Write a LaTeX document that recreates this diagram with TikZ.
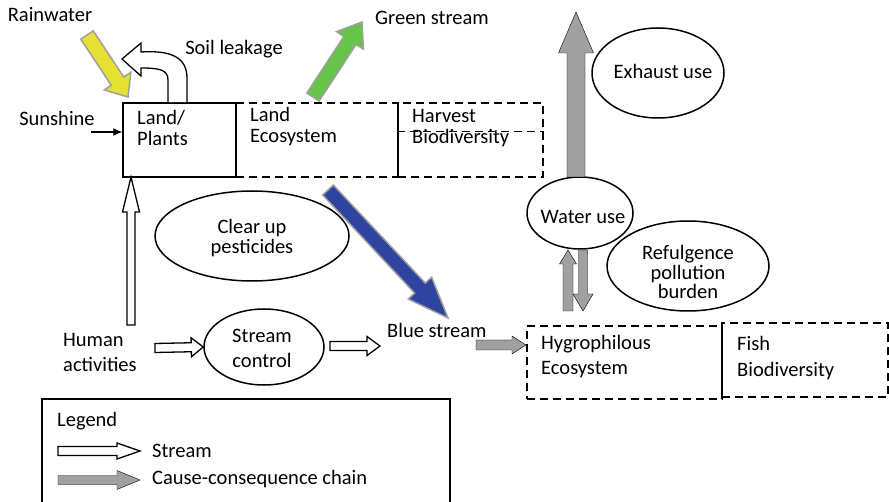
\documentclass[tikz,border=0pt]{standalone}
\usepackage{fontspec}
\setmainfont{Carlito}
\usepackage{tikz}
\usetikzlibrary{arrows.meta, calc, shapes.geometric}

\definecolor{rainyellow}{RGB}{230,224,50}
\definecolor{leafgreen}{RGB}{102,196,72}
\definecolor{riverblue}{RGB}{46,68,158}
\definecolor{chaingrey}{RGB}{160,160,160}

% block arrow: style, tail, tip, half shaft, half head, head length
\newcommand{\fatarrow}[6]{%
  \coordinate (fa-base) at ($(#3)!#6pt!(#2)$);
  \draw[#1] ($(#2)!#4pt!90:(#3)$) -- ($(fa-base)!#4pt!90:(#3)$)
    -- ($(fa-base)!#5pt!90:(#3)$) -- (#3) -- ($(fa-base)!#5pt!-90:(#3)$)
    -- ($(fa-base)!#4pt!-90:(#3)$) -- ($(#2)!#4pt!-90:(#3)$) -- cycle;
}

\begin{document}
\begin{tikzpicture}[
    x=1pt, y=-1pt,
    every node/.style={font=\fontsize{20.5}{21}\selectfont, inner sep=0pt},
    txt/.style={align=left},
    solidbox/.style={draw, line width=1.5pt, rectangle},
    dashbox/.style={draw, line width=1.5pt, dash pattern=on 8pt off 5pt, rectangle},
    oval/.style={draw, line width=1.5pt, ellipse},
    flow/.style={draw=black, fill=white, line width=1.3pt, line join=miter},
    chain/.style={fill=chaingrey},
    colflow/.style={fill=#1, draw=chaingrey, line width=1.5pt}
]
\useasboundingbox (0,0) rectangle (889,502);

% land side
\node[dashbox, minimum width=162, minimum height=74] (landeco) at (317,140) {};
\node[dashbox, minimum width=145, minimum height=74] (harvest) at (470.5,140) {};
\draw[line width=1.5pt, dash pattern=on 8pt off 5pt]
  ($(harvest.north west)!0.39!(harvest.south west)$) -- ($(harvest.north east)!0.39!(harvest.south east)$);
\node[solidbox, fill=white, minimum width=113, minimum height=74] (land) at (179.5,140) {};
\node[txt, anchor=west] (landtxt) at (137,128) {Land/\\Plants};
\node[txt, anchor=west] (ecotxt) at (250,127) {Land\\Ecosystem};
\node[txt, anchor=west] (harvtxt) at (412,128) {Harvest\\Biodiversity};

\node[txt] (rain) at (50,15) {Rainwater};
\node[txt] (soil) at (234,49) {Soil leakage};
\node[txt] (green) at (432,18) {Green stream};
\node[txt] (sun) at (57,118) {Sunshine};

% water side
\node[dashbox, minimum width=195, minimum height=73] (hygro) at (624.5,362.5) {};
\node[dashbox, minimum width=166, minimum height=74] (fish) at (805,360) {};
\node[txt, anchor=west, font=\fontsize{20.5}{25}\selectfont] (hygrotxt) at (541,357) {Hygrophilous\\Ecosystem};
\node[txt, anchor=west, font=\fontsize{20.5}{26}\selectfont] (fishtxt) at (737,358) {Fish\\Biodiversity};

\node[oval, minimum width=132, minimum height=90] (exhaust) at (658,73) {};
\node[txt] (exhausttxt) at ($(exhaust)+(5,-2)$) {Exhaust use};
\node[oval, minimum width=106, minimum height=72] (wateruse) at (580,213) {};
\node[txt] (waterusetxt) at ($(wateruse)+(3,4)$) {Water use};
\node[oval, minimum width=162, minimum height=90] (refulg) at (688,266) {};
\node[txt, align=center, font=\fontsize{20.5}{19.5}\selectfont] (refulgtxt) at ($(refulg)+(0,6)$) {Refulgence\\pollution\\burden};

% middle
\node[oval, minimum width=194, minimum height=90] (clearup) at (252,236) {};
\node[txt, align=center, font=\fontsize{20.5}{20}\selectfont] (clearuptxt) at ($(clearup)+(0,2)$) {Clear up\\pesticides};
\node[oval, minimum width=120, minimum height=76] (streamctrl) at (264,347) {};
\node[txt, align=center, font=\fontsize{20.5}{25}\selectfont] (streamctrltxt) at ($(streamctrl)+(-2,1)$) {Stream\\control};
\node[txt, anchor=west, font=\fontsize{20.5}{25}\selectfont] (human) at (63,352) {Human\\activities};
\node[txt, anchor=west] (blue) at (387,330) {Blue stream};

% connector ends
\coordinate (raintail) at (87,35);
\coordinate (raintip) at (128,97);
\coordinate (greentail) at (313,97);
\coordinate (greentip) at (362,22);
\coordinate (bluetail) at (328,190);
\coordinate (bluetip) at (448,318);
\coordinate (usetop) at (576,177);
\coordinate (exhausttip) at (576,12);
\coordinate (upfoot) at (568,311);
\coordinate (uptip) at (568,250);
\coordinate (downtop) at (583,250);
\coordinate (downtip) at (583,311);
\coordinate (bluefoot) at (476,345);
\coordinate (hygroin) at (526,345);
\coordinate (humanup) at (131,325);
\coordinate (landin) at (131,177);
\coordinate (humanright) at (155,348);
\coordinate (ctrlout) at (330,346);
\coordinate (bluein) at (380,346);
\coordinate (sunfoot) at (91,132);

% coloured streams
\fatarrow{colflow=rainyellow}{raintail}{raintip}{7.5}{16}{19}
\fatarrow{colflow=leafgreen}{greentail}{greentip}{7.3}{16}{22}
\fatarrow{colflow=riverblue}{bluetail}{bluetip}{7.3}{16}{41}

% cause-consequence chains
\fatarrow{chain}{usetop}{exhausttip}{9}{17.5}{41}
\fatarrow{chain}{upfoot}{uptip}{5}{8.5}{14}
\fatarrow{chain}{downtop}{downtip}{4.5}{10}{17}
\fatarrow{chain}{bluefoot}{hygroin}{5}{9}{14}

% streams
\fatarrow{flow}{humanup}{landin}{4}{8.5}{35}
\fatarrow{flow}{humanright}{streamctrl.west}{4.5}{9.5}{12}
\fatarrow{flow}{ctrlout}{bluein}{4.5}{9.5}{13}
\draw[line width=1.2pt, -{Latex[length=9pt, width=8pt]}] (sunfoot) -- (sunfoot -| land.west);

% soil leakage
\draw[flow] ($(land.north)+(-11.5,0)$) -- (168,80) .. controls (168,70) and (160,68) .. (141,68)
  -- (141,76) -- (122,59) -- (141,43) -- (141,52) .. controls (172,50) and (187,58) .. (187,78)
  -- ($(land.north)+(7.5,0)$);

% legend
\draw[line width=1.5pt] (42,503) -- (42,399) -- (450,399) -- (450,503);
\node[txt, anchor=west] (legend) at (57,421) {Legend};
\coordinate (streamkeytail) at (58,451);
\coordinate (streamkeytip) at (140,451);
\coordinate (chainkeytail) at (58,480);
\coordinate (chainkeytip) at (140,480);
\fatarrow{flow}{streamkeytail}{streamkeytip}{4.5}{8}{23}
\fatarrow{chain}{chainkeytail}{chainkeytip}{4.5}{9.5}{23}
\node[txt, anchor=west] (streamkey) at (152,451) {Stream};
\node[txt, anchor=west] (chainkey) at (152,479) {Cause-consequence chain};

\end{tikzpicture}
\end{document}
